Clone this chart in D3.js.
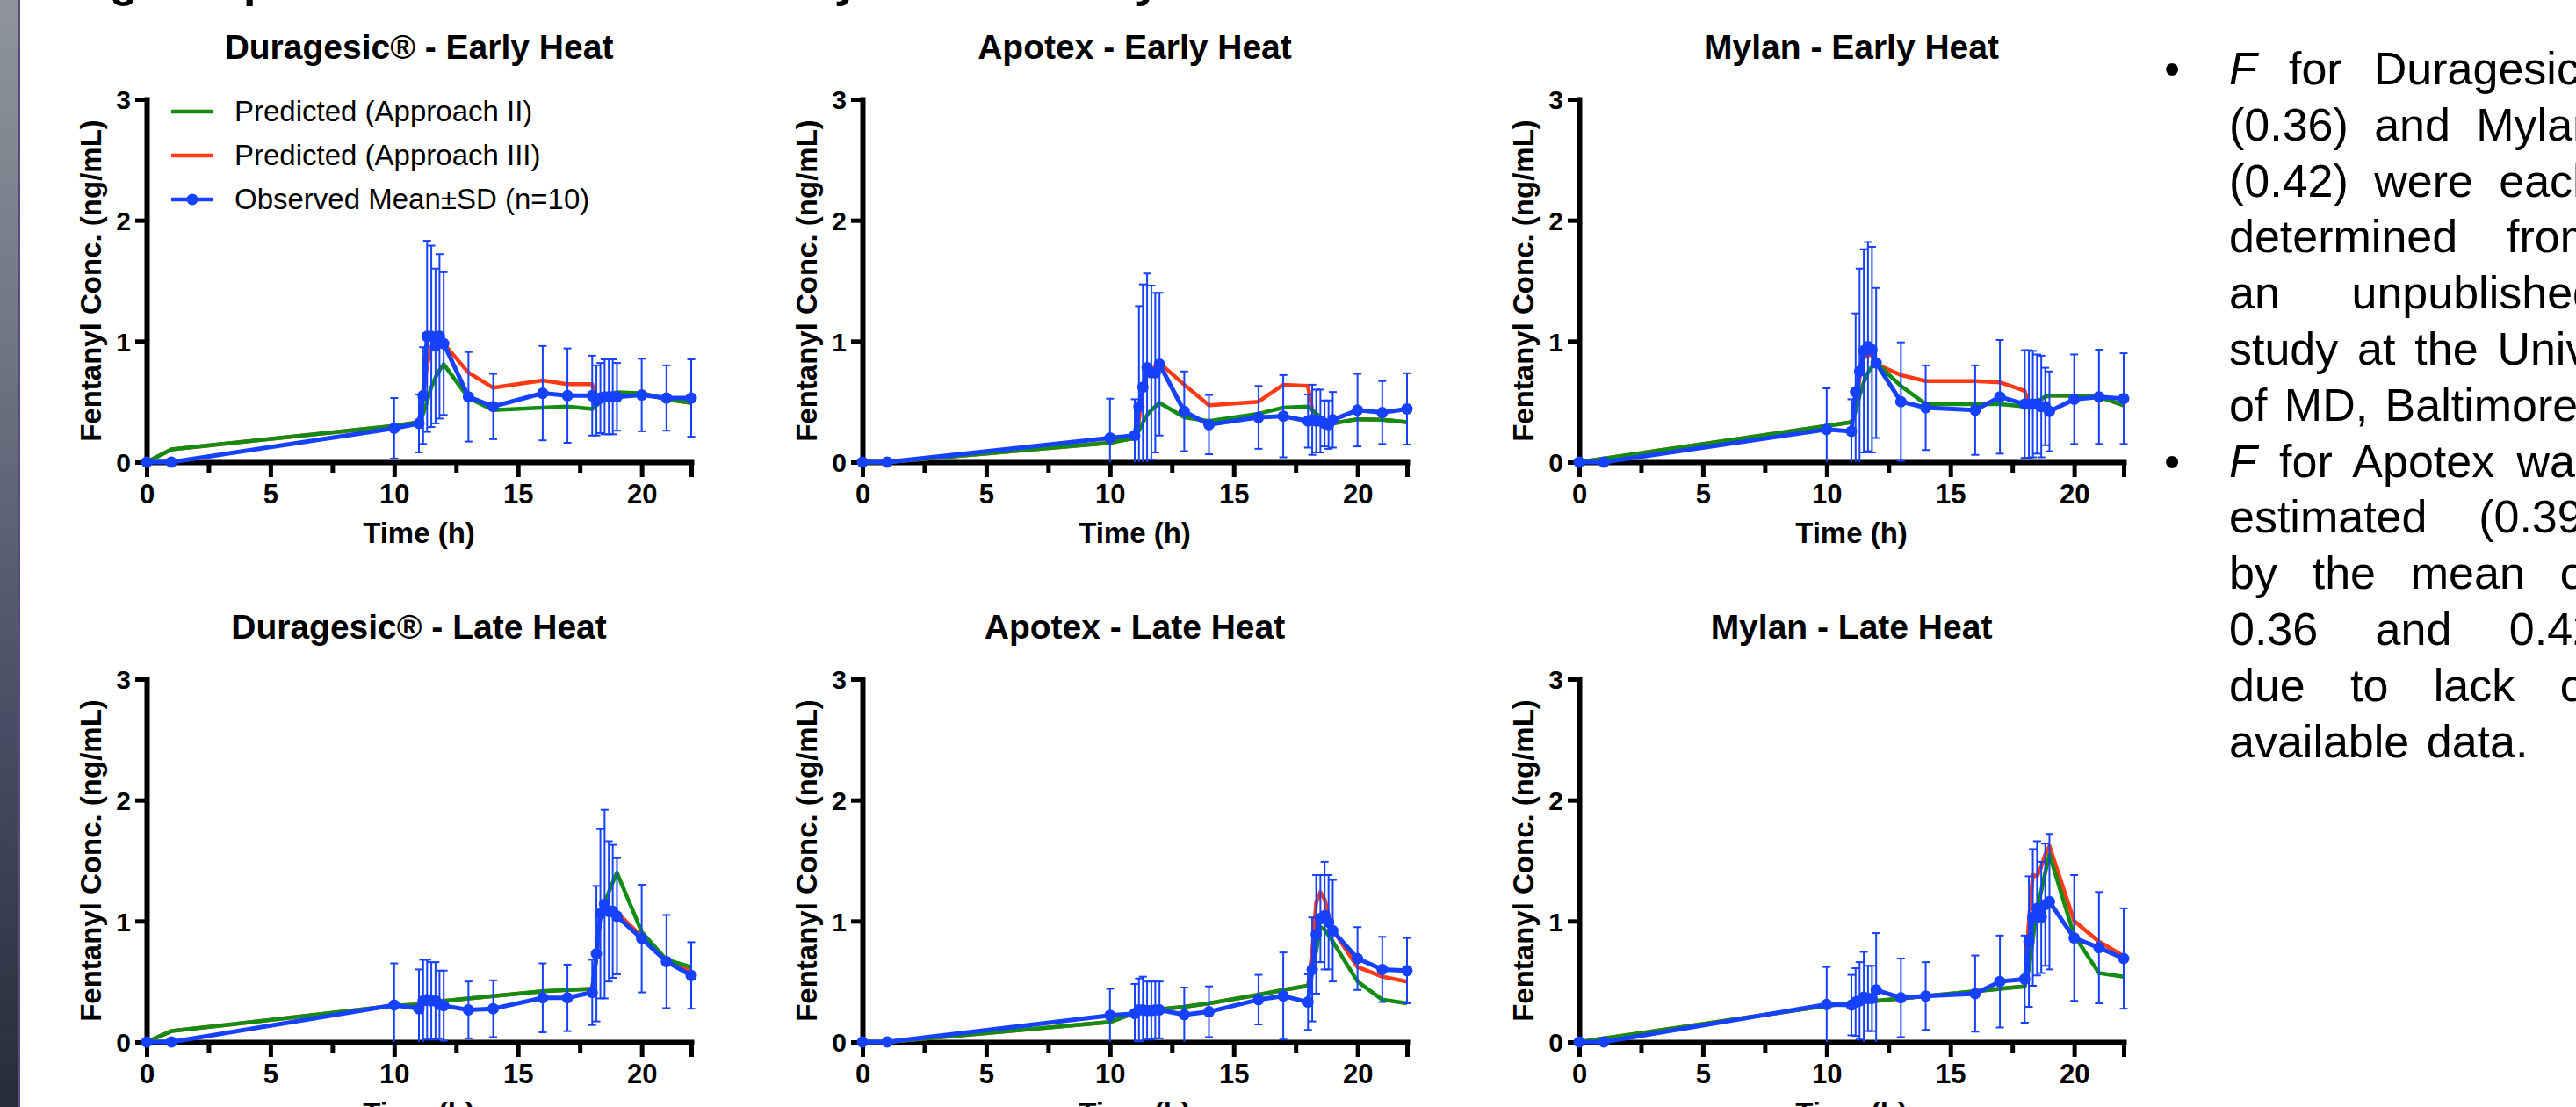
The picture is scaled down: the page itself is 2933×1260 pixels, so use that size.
<!DOCTYPE html>
<meta charset="utf-8">
<style>
html, body { margin: 0; padding: 0; overflow: hidden; background: #fff; }
body { width: 2933px; height: 1260px; position: relative; font-family: "Liberation Sans", Arial, Helvetica, sans-serif; }
svg { position: absolute; left: 0; top: 0; }
#bar { position: absolute; left: 0; top: 0; width: 21px; height: 1260px;
  background: linear-gradient(#90959c, #6b7482 33%, #454e62 66%, #262c3a);
  border-right: 2px solid #5c4a7c; }
#notes { position: absolute; left: 2538px; top: 47px; width: 420px; font-size: 52px; word-spacing: 5px;
  line-height: 63.8px; text-align: justify; color: #000; }
#notes p { margin: 0; position: relative; }
#notes .dot { position: absolute; left: -74px; top: 0; }
#notes sup { font-size: 0.55em; line-height: 0; vertical-align: 0.75em; }
.title { font: bold 39px "Liberation Sans", Arial, sans-serif; }
.ylab, .xlab { font: bold 33px "Liberation Sans", Arial, sans-serif; }
.xaxis text { font: bold 31px "Liberation Sans", Arial, sans-serif; }
.yaxis text { font: bold 30px "Liberation Sans", Arial, sans-serif; }
.legend text { font: 33px "Liberation Sans", Arial, sans-serif; }
.frag { font: bold 52px "Liberation Sans", Arial, sans-serif; }
</style>
<svg width="2933" height="1260"></svg>
<div id="bar"></div>
<div id="notes">
  <p><span class="dot">•</span><i>F</i> for Duragesic<sup>®</sup> (0.36) and Mylan (0.42) were each determined from an unpublished study at the Univ. of MD, Baltimore.</p>
  <p><span class="dot">•</span><i>F</i> for Apotex was estimated (0.39) by the mean of 0.36 and 0.42 due to lack of available data.</p>
</div>
<script src="https://d3js.org/d3.v7.min.js"></script>
<script>

// sampling times (h), shared by every series
var timesH = [0, 1, 10, 11, 11.17, 11.33, 11.5, 11.67, 11.83, 12, 13, 14, 16, 17,
              18, 18.17, 18.33, 18.5, 18.67, 18.83, 19, 20, 21, 22];

// Duragesic - early heat
var durEarlyMean = [0,0,0.28,0.32,0.55,1.04,1.04,0.96,1.04,0.98,0.54,0.46,0.57,0.55,0.55,0.51,0.53,0.54,0.54,0.54,0.54,0.555,0.53,0.53];
var durEarlySD   = [0,0,0.25,0.24,0.40,0.79,0.75,0.64,0.68,0.59,0.37,0.27,0.39,0.39,0.33,0.29,0.29,0.31,0.31,0.31,0.28,0.30,0.27,0.32];
var durEarlyII   = [0,0.105,0.30,0.33,0.40,0.50,0.62,0.70,0.76,0.81,0.53,0.43,0.45,0.46,0.44,0.47,0.50,0.53,0.56,0.57,0.575,0.57,0.52,0.49];
var durEarlyIII  = [0,0.105,0.30,0.33,0.55,0.80,0.95,0.98,1.00,0.98,0.74,0.615,0.675,0.645,0.645,0.47,0.50,0.53,0.56,0.57,0.575,0.57,0.52,0.49];

// Apotex - early heat
var apoEarlyMean = [0,0,0.20,0.22,0.46,0.62,0.78,0.74,0.74,0.81,0.42,0.31,0.37,0.38,0.34,0.35,0.34,0.34,0.32,0.31,0.35,0.43,0.41,0.44];
var apoEarlySD   = [0,0,0.325,0.30,0.83,0.85,0.78,0.72,0.66,0.59,0.33,0.245,0.26,0.34,0.22,0.29,0.26,0.26,0.19,0.20,0.23,0.30,0.26,0.295];
var apoEarlyII   = [0,0,0.16,0.20,0.26,0.33,0.39,0.43,0.46,0.49,0.37,0.34,0.40,0.45,0.46,0.43,0.40,0.37,0.35,0.33,0.32,0.355,0.35,0.33];
var apoEarlyIII  = [0,0,0.16,0.20,0.35,0.60,0.74,0.76,0.79,0.82,0.64,0.47,0.50,0.64,0.63,0.43,0.40,0.37,0.35,0.33,0.32,0.355,0.35,0.33];

// Mylan - early heat
var mylEarlyMean = [0,0,0.27,0.255,0.58,0.75,0.92,0.955,0.93,0.82,0.50,0.45,0.43,0.54,0.48,0.48,0.48,0.48,0.46,0.46,0.42,0.52,0.54,0.525];
var mylEarlySD   = [0,0,0.34,0.265,0.65,0.85,0.84,0.865,0.85,0.62,0.49,0.35,0.37,0.47,0.445,0.445,0.44,0.41,0.42,0.32,0.33,0.37,0.39,0.375];
var mylEarlyII   = [0,0.03,0.30,0.33,0.42,0.55,0.66,0.74,0.79,0.82,0.63,0.48,0.48,0.48,0.46,0.47,0.49,0.50,0.52,0.54,0.55,0.55,0.54,0.47];
var mylEarlyIII  = [0,0.03,0.30,0.33,0.45,0.70,0.86,0.89,0.88,0.81,0.72,0.67,0.67,0.66,0.59,0.47,0.49,0.50,0.52,0.54,0.55,0.55,0.54,0.47];

// Duragesic - late heat
var durLateMean = [0,0,0.305,0.275,0.34,0.35,0.34,0.34,0.31,0.30,0.265,0.275,0.365,0.365,0.41,0.73,1.06,1.14,1.08,1.08,1.04,0.855,0.665,0.55];
var durLateSD   = [0,0,0.345,0.325,0.34,0.33,0.32,0.32,0.28,0.29,0.235,0.235,0.285,0.275,0.27,0.56,0.70,0.78,0.58,0.55,0.48,0.445,0.385,0.275];
var durLateII   = [0,0.09,0.30,0.31,0.315,0.32,0.325,0.33,0.335,0.34,0.36,0.38,0.42,0.43,0.44,0.70,1.05,1.15,1.24,1.32,1.40,0.91,0.68,0.62];
var durLateIII  = [0,0.09,0.30,0.31,0.315,0.32,0.325,0.33,0.335,0.34,0.36,0.38,0.42,0.43,0.44,0.70,1.05,1.13,1.12,1.10,1.07,0.87,0.67,0.59];

// Apotex - late heat
var apoLateMean = [0,0,0.22,0.235,0.265,0.265,0.26,0.26,0.265,0.265,0.225,0.25,0.35,0.38,0.33,0.60,0.89,1.02,1.045,0.99,0.92,0.69,0.60,0.59];
var apoLateSD   = [0,0,0.22,0.245,0.26,0.275,0.24,0.24,0.235,0.235,0.225,0.21,0.205,0.36,0.23,0.43,0.49,0.36,0.445,0.39,0.42,0.26,0.27,0.27];
var apoLateII   = [0,0,0.165,0.24,0.245,0.25,0.255,0.26,0.265,0.27,0.29,0.32,0.39,0.43,0.465,0.60,0.75,0.95,0.93,0.88,0.83,0.50,0.35,0.32];
var apoLateIII  = [0,0,0.165,0.24,0.245,0.25,0.255,0.26,0.265,0.27,0.29,0.32,0.39,0.43,0.465,0.75,1.15,1.24,1.18,1.05,0.93,0.62,0.54,0.50];

// Mylan - late heat
var mylLateMean = [0,0,0.31,0.305,0.33,0.34,0.37,0.36,0.36,0.43,0.365,0.38,0.40,0.50,0.52,0.83,1.03,1.105,1.03,1.135,1.16,0.86,0.78,0.69];
var mylLateSD   = [0,0,0.31,0.25,0.28,0.32,0.375,0.27,0.27,0.47,0.325,0.28,0.315,0.38,0.36,0.54,0.565,0.555,0.46,0.505,0.56,0.52,0.46,0.415];
var mylLateII   = [0,0.03,0.30,0.32,0.325,0.33,0.33,0.335,0.34,0.34,0.36,0.38,0.42,0.44,0.46,0.60,0.85,1.10,1.25,1.40,1.55,0.88,0.57,0.54];
var mylLateIII  = [0,0.03,0.30,0.32,0.325,0.33,0.33,0.335,0.34,0.34,0.36,0.38,0.42,0.44,0.46,1.00,1.38,1.37,1.45,1.55,1.62,1.00,0.83,0.71];

var panelTitles = ["Duragesic® - Early Heat", "Apotex - Early Heat", "Mylan - Early Heat",
                   "Duragesic® - Late Heat", "Apotex - Late Heat", "Mylan - Late Heat"];
var legendLabels = ["Predicted (Approach II)", "Predicted (Approach III)", "Observed Mean±SD (n=10)"];
var xTicks = [0, 5, 10, 15, 20, 22];
var xMinorTicks = [2.5, 7.5, 12.5, 17.5];
var yTicks = [0, 1, 2, 3];

var green = "#138c13", red = "#ff3a14", blue = "#1642ff";

var panels = [
  {col: 0, row: 0, mean: durEarlyMean, sd: durEarlySD, ii: durEarlyII, iii: durEarlyIII, legend: true},
  {col: 1, row: 0, mean: apoEarlyMean, sd: apoEarlySD, ii: apoEarlyII, iii: apoEarlyIII},
  {col: 2, row: 0, mean: mylEarlyMean, sd: mylEarlySD, ii: mylEarlyII, iii: mylEarlyIII},
  {col: 0, row: 1, mean: durLateMean, sd: durLateSD, ii: durLateII, iii: durLateIII},
  {col: 1, row: 1, mean: apoLateMean, sd: apoLateSD, ii: apoLateII, iii: apoLateIII},
  {col: 2, row: 1, mean: mylLateMean, sd: mylLateSD, ii: mylLateII, iii: mylLateIII}
];

var svg = d3.select("svg");
var colX = [167, 982, 1798], rowY = [526, 1186];
var plotW = 620, plotH = 413;

// descenders of the slide heading line cut off at the top
[["g", 125], ["p", 277], ["y", 950], ["y", 1292]].forEach(function(f) {
  svg.append("text").attr("class", "frag").attr("x", f[1]).attr("y", -4).text(f[0]);
});

panels.forEach(function(p, k) {
  var x0 = colX[p.col], y0 = rowY[p.row];
  var x = d3.scaleLinear().domain([0, 22]).range([x0, x0 + plotW]);
  var y = d3.scaleLinear().domain([0, 3]).range([y0, y0 - plotH]);
  var g = svg.append("g");

  g.append("text").attr("class", "title")
    .attr("x", x(11)).attr("y", y0 - 459)
    .attr("text-anchor", "middle").text(panelTitles[k]);

  g.append("text").attr("class", "ylab")
    .attr("transform", "translate(" + (x0 - 52) + "," + y(1.5) + ") rotate(-90)")
    .attr("text-anchor", "middle").text("Fentanyl Conc. (ng/mL)");

  g.append("text").attr("class", "xlab")
    .attr("x", x(11)).attr("y", y0 + 92)
    .attr("text-anchor", "middle").text("Time (h)");

  // axes
  var xa = g.append("g").attr("class", "xaxis").attr("transform", "translate(0," + y0 + ")");
  xa.call(d3.axisBottom(x).tickValues(xTicks).tickSize(17).tickPadding(8).tickSizeOuter(0)
    .tickFormat(function(d) { return d === 22 ? "" : d; }));
  xa.append("g").call(d3.axisBottom(x).tickValues(xMinorTicks).tickSize(12).tickFormat("").tickSizeOuter(0))
    .select(".domain").remove();
  var ya = g.append("g").attr("class", "yaxis").attr("transform", "translate(" + x0 + ",0)");
  ya.call(d3.axisLeft(y).tickValues(yTicks).tickSize(13).tickPadding(5).tickSizeOuter(0)
    .tickFormat(d3.format("d")));
  g.selectAll(".domain").attr("stroke-width", 6).attr("stroke-linecap", "square");
  g.selectAll(".tick line").attr("stroke-width", 5);
  g.selectAll(".yaxis .tick text").attr("dy", "0.36em");

  var line = d3.line().x(function(d, i) { return x(timesH[i]); }).y(function(d) { return y(d); });

  g.append("path").datum(p.iii).attr("d", line).attr("fill", "none")
    .attr("stroke", red).attr("stroke-width", 4.5).attr("stroke-linejoin", "round");
  g.append("path").datum(p.ii).attr("d", line).attr("fill", "none")
    .attr("stroke", green).attr("stroke-width", 4.5).attr("stroke-linejoin", "round");

  // error bars (mean ± SD, clipped at the axis)
  var bars = g.append("g").attr("stroke", blue).attr("stroke-width", 2);
  p.mean.forEach(function(m, i) {
    var s = p.sd[i];
    if (!s) return;
    var cx = x(timesH[i]), top = y(m + s), lo = Math.max(0, m - s);
    bars.append("line").attr("x1", cx).attr("x2", cx).attr("y1", top).attr("y2", y(lo));
    bars.append("line").attr("x1", cx - 4.5).attr("x2", cx + 4.5).attr("y1", top).attr("y2", top);
    if (lo > 0) bars.append("line").attr("x1", cx - 4.5).attr("x2", cx + 4.5).attr("y1", y(lo)).attr("y2", y(lo));
  });

  g.append("path").datum(p.mean).attr("d", line).attr("fill", "none")
    .attr("stroke", blue).attr("stroke-width", 5).attr("stroke-linejoin", "round");
  g.append("g").selectAll("circle").data(p.mean).join("circle")
    .attr("cx", function(d, i) { return x(timesH[i]); })
    .attr("cy", function(d) { return y(d); })
    .attr("r", 6.5).attr("fill", blue);

  if (p.legend) {
    var lg = g.append("g").attr("class", "legend");
    [green, red, blue].forEach(function(c, j) {
      var ly = y0 - 399 + j * 50;
      lg.append("line").attr("x1", x0 + 28).attr("x2", x0 + 75).attr("y1", ly).attr("y2", ly)
        .attr("stroke", c).attr("stroke-width", 4.5);
      if (c === blue) lg.append("circle").attr("cx", x0 + 52).attr("cy", ly).attr("r", 6.5).attr("fill", blue);
      lg.append("text").attr("x", x0 + 100).attr("y", ly + 11).text(legendLabels[j]);
    });
  }
});
</script>
